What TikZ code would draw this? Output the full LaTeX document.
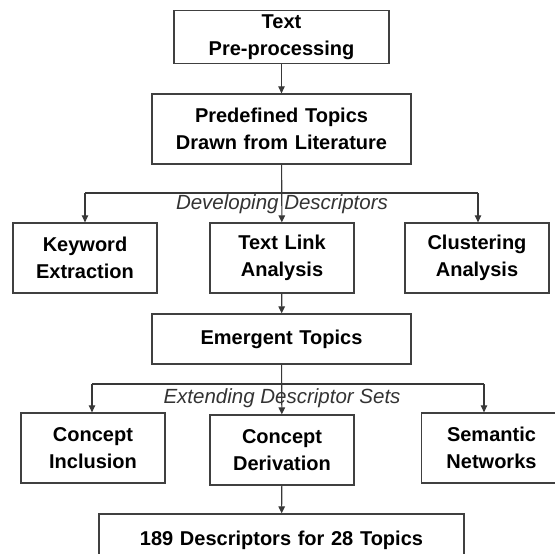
\documentclass[tikz,border=0pt]{standalone}
\usepackage{fontspec}
\setmainfont{Liberation Sans}
\usetikzlibrary{arrows.meta}

\tikzset{
	stage/.style={draw=black!75, line width=1.3pt, align=center, inner sep=2pt,
		font=\bfseries\fontsize{20}{27}\selectfont, minimum height=70pt, text width=#1},
	stage/.default=140pt,
	link/.style={draw=black!78, line width=1.1pt},
	arr/.style={link, -{Triangle[length=7pt,width=6.5pt]}},
	branch/.style={font=\itshape\fontsize{20.5}{24}\selectfont, text=black!80, inner sep=0pt}
}

\begin{document}
\begin{tikzpicture}[x=1pt,y=-1pt]
	\useasboundingbox (0,0) rectangle (555,554);

	\node[stage=211pt, minimum height=53pt] (prep) at (281.5,37) {Text\\Pre-processing};
	\node[stage=255pt] (lit) at (281.5,129) {Predefined Topics\\Drawn from Literature};

	\node[stage] (kw) at (85,258) {Keyword\\Extraction};
	\node[stage] (tla) at (282,258) {Text Link\\Analysis};
	\node[stage] (clu) at (477,258) {Clustering\\Analysis};

	\node[stage=255pt, minimum height=50pt] (emg) at (281.5,339) {Emergent Topics};

	\node[stage] (inc) at (93,448) {Concept\\Inclusion};
	\node[stage] (der) at (282,450) {Concept\\Derivation};
	\node[stage=136pt] (sem) at (491.5,448) {Semantic\\Networks};

	\node[stage=361pt, minimum height=52pt] (res) at (281.5,540) {189 Descriptors for 28 Topics};

	% developing descriptors
	\coordinate (devL) at (85,193);
	\coordinate (devR) at (478,193);
	\draw[arr] (prep) -- (lit);
	\draw[link] (devL) -- (devR);
	\draw[arr] (devL) -- (devL |- kw.north);
	\draw[arr] (devR) -- (devR |- clu.north);
	\draw[arr] (lit) -- (tla);
	\node[branch] (devlabel) at (282,204) {Developing Descriptors};

	% extending descriptor sets
	\coordinate (extL) at (92,384);
	\coordinate (extR) at (484,384);
	\draw[arr] (tla) -- (emg);
	\draw[link] (extL) -- (extR);
	\draw[arr] (extL) -- (extL |- inc.north);
	\draw[arr] (extR) -- (extR |- sem.north);
	\draw[arr] (emg) -- (der);
	\node[branch] (extlabel) at (282,398) {Extending Descriptor Sets};

	\draw[arr] (der) -- (res);
\end{tikzpicture}
\end{document}
